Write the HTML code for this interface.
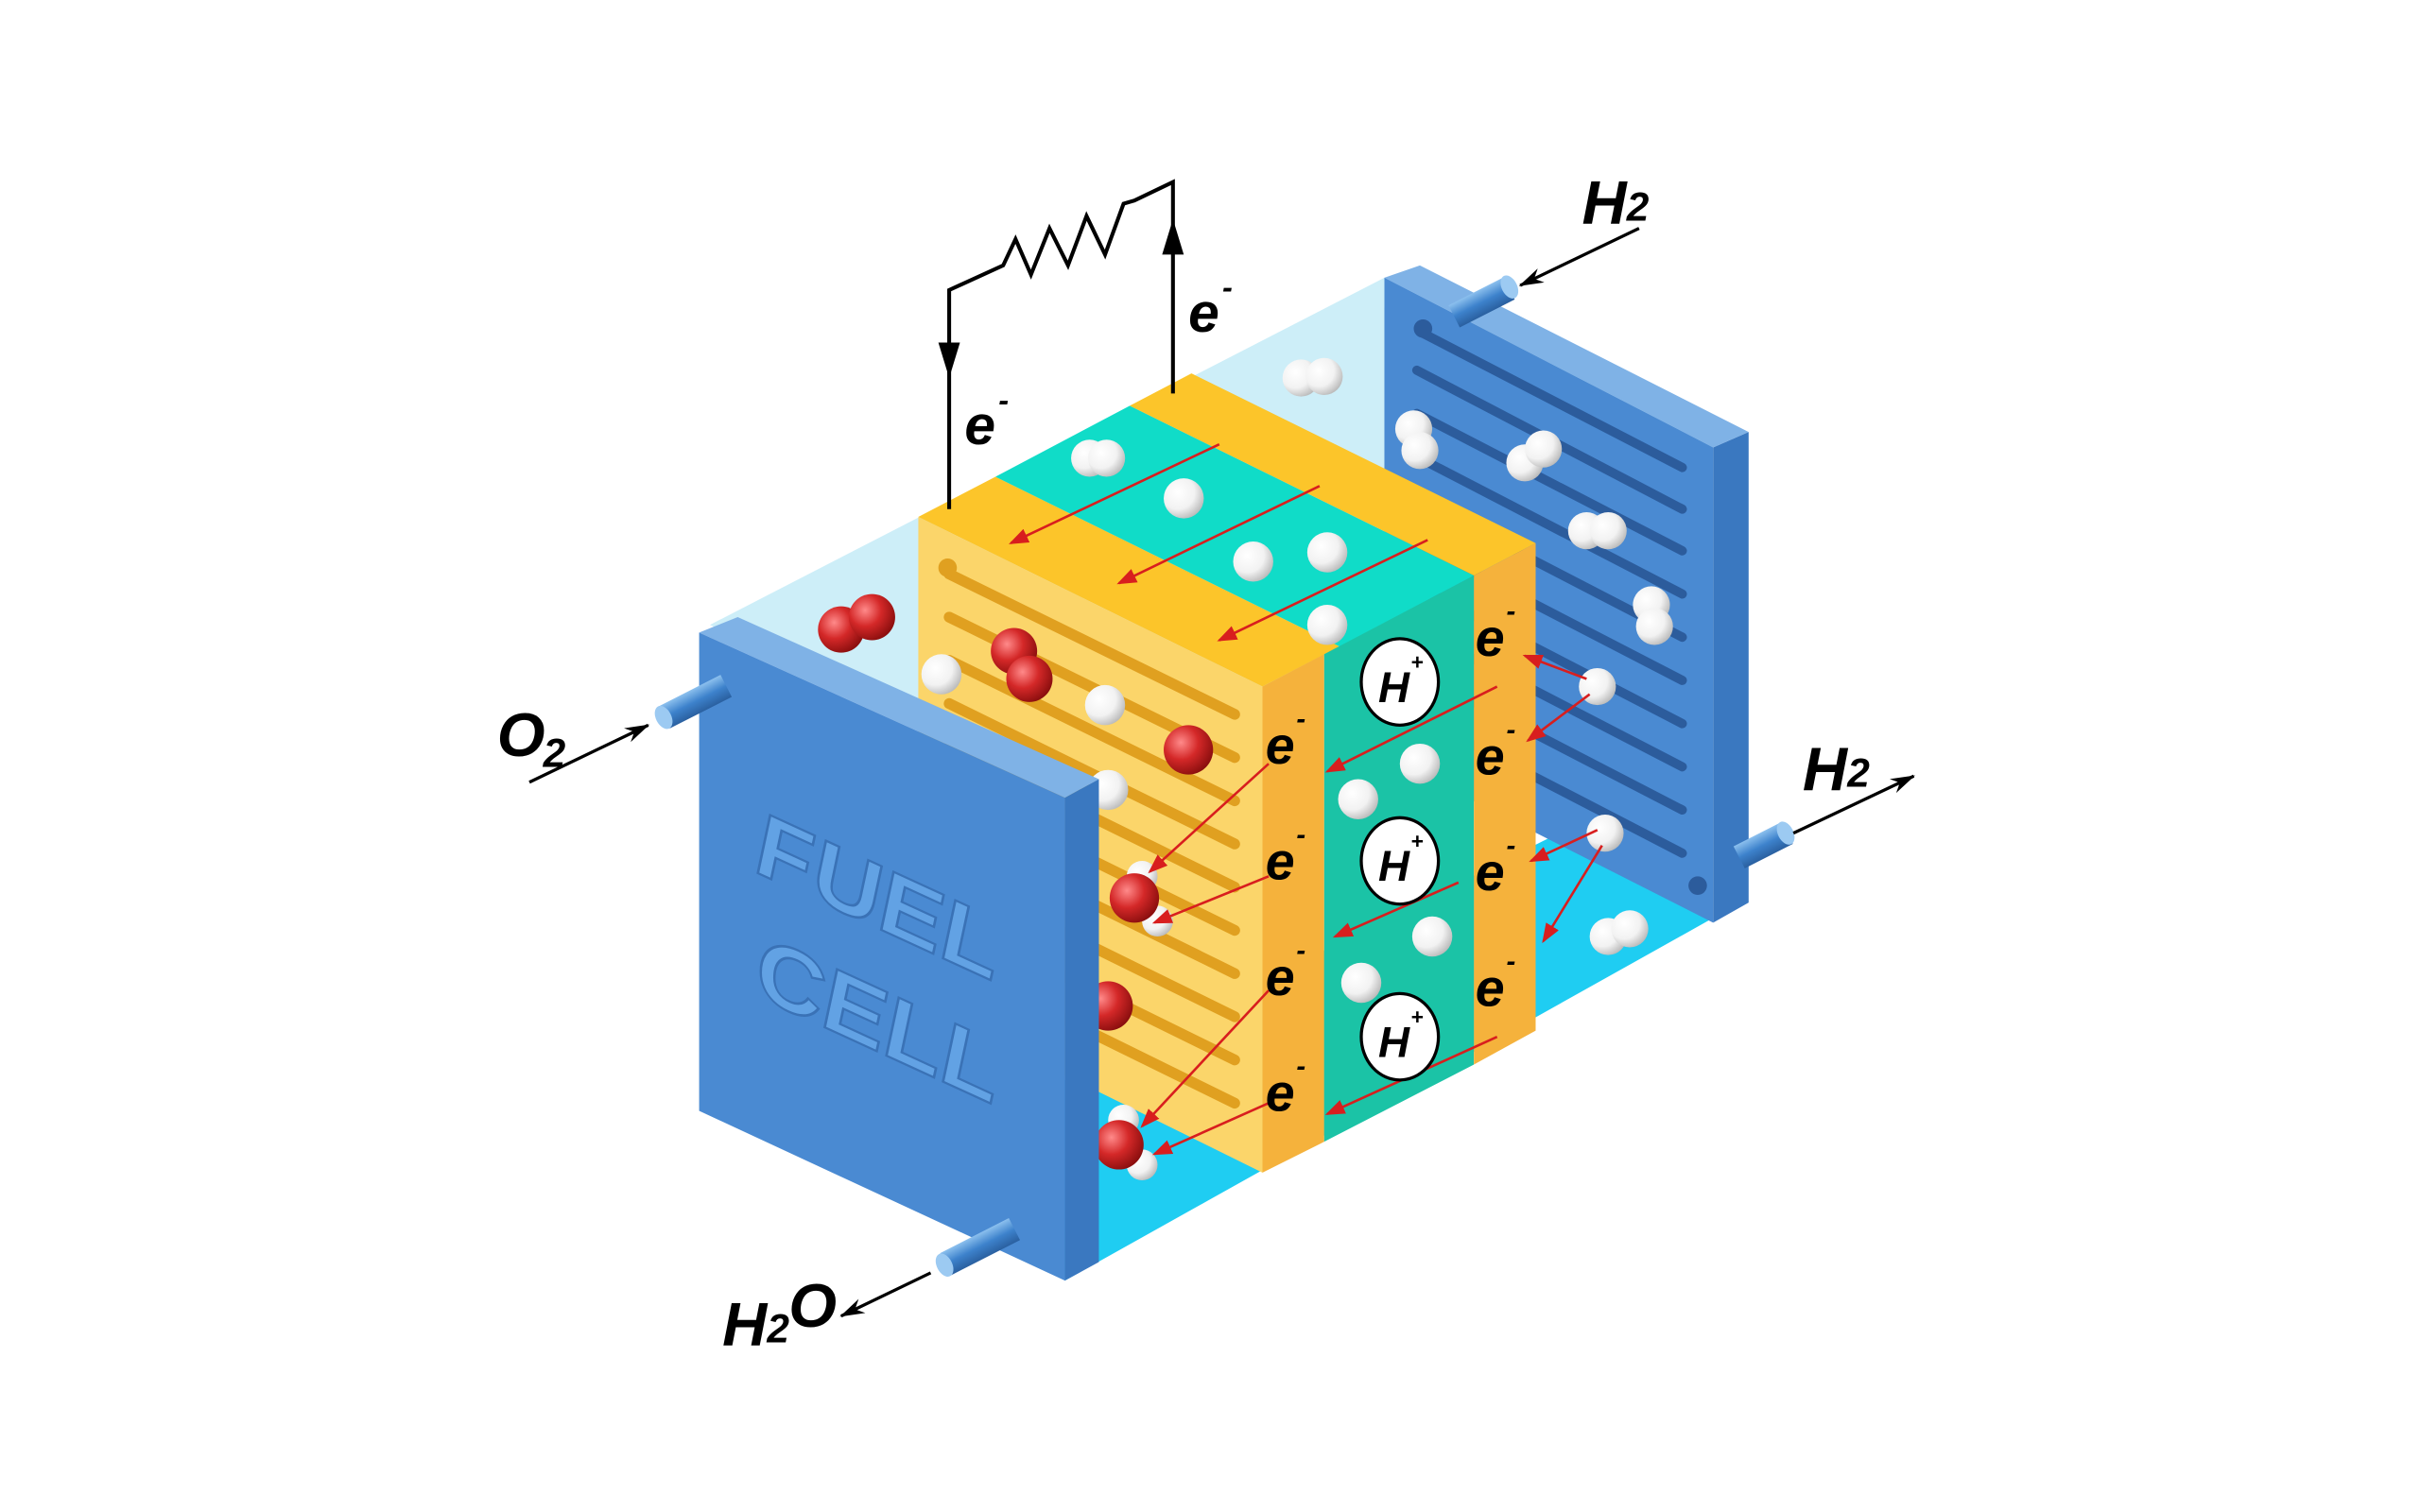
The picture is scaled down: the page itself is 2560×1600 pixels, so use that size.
<!DOCTYPE html>
<html><head><meta charset="utf-8"><style>
html,body{margin:0;padding:0;background:#fff;width:2560px;height:1600px;overflow:hidden}
svg{display:block}
text{font-family:"Liberation Sans",sans-serif;font-weight:bold;font-style:italic}
</style></head><body>
<svg width="2560" height="1600" viewBox="0 0 1568 980" preserveAspectRatio="none" xmlns="http://www.w3.org/2000/svg">
<defs>
<radialGradient id="wg" cx="0.35" cy="0.35" r="0.7"><stop offset="0" stop-color="#fff"/><stop offset="0.6" stop-color="#f2f2f2"/><stop offset="1" stop-color="#bbb"/></radialGradient>
<radialGradient id="rg" cx="0.35" cy="0.35" r="0.7"><stop offset="0" stop-color="#ff8a8a"/><stop offset="0.5" stop-color="#d42828"/><stop offset="1" stop-color="#8a0e0e"/></radialGradient>
<linearGradient id="pipe" x1="0" y1="0" x2="0" y2="1"><stop offset="0" stop-color="#8cc0ee"/><stop offset="0.5" stop-color="#3d82cc"/><stop offset="1" stop-color="#2a60a0"/></linearGradient>
<marker id="ra" markerWidth="8" markerHeight="6" refX="7" refY="3" orient="auto"><path d="M0,0 L8,3 L0,6 Z" fill="#d81e1e"/></marker>
<marker id="ka" markerWidth="16" markerHeight="10" refX="15" refY="5" orient="auto" markerUnits="userSpaceOnUse"><path d="M0,0 L16,5 L0,10 L5,5 Z" fill="#000"/></marker>
</defs>

<polygon points="460,405 897,180 1110,290 690,515" fill="#cdeef8"/>
<polygon points="690,700 1030,530 1110,595 690,830" fill="#1fcdf2"/>

<polygon points="1110,290 1133,280 1133,585 1110,598" fill="#3a78c0"/>
<polygon points="897,180 920,172 1133,280 1110,290" fill="#7fb2e6"/>
<polygon points="897,180 1110,290 1110,598 897,490" fill="#4a8ad2"/>
<g stroke="#2c5c9c" stroke-width="6" fill="none" stroke-linecap="round">
<path d="M920,215 L1090,303"/><path d="M918,240 L1090,330"/><path d="M918,268 L1090,357"/><path d="M918,296 L1090,385"/><path d="M918,324 L1090,413"/><path d="M918,352 L1090,441"/><path d="M918,380 L1090,469"/><path d="M918,408 L1090,497"/><path d="M918,436 L1090,525"/><path d="M918,464 L1090,553"/>
</g>
<circle cx="922" cy="213" r="6" fill="#2c5c9c"/><circle cx="1100" cy="574" r="6" fill="#2c5c9c"/>
<rect x="940" y="188" width="40" height="16" fill="url(#pipe)" transform="rotate(-27 960 196)"/>
<ellipse cx="978" cy="186" rx="5" ry="8" fill="#9ccaf2" transform="rotate(-27 978 186)"/>
<rect x="1125" y="540" width="35" height="16" fill="url(#pipe)" transform="rotate(-27 1142 548)"/>
<ellipse cx="1157" cy="540" rx="5" ry="8" fill="#9ccaf2" transform="rotate(-27 1157 540)"/>

<polygon points="595,335 818,445 868,419 645,309" fill="#fcc52a"/>
<polygon points="645,309 868,419 955,373 732,263" fill="#10dcc8"/>
<polygon points="732,263 955,373 995,352 772,242" fill="#fcc52a"/>
<polygon points="818,445 858,424 858,740 818,760" fill="#f5b23c"/>
<polygon points="858,424 955,373 955,690 858,740" fill="#1bc3a6"/>
<polygon points="955,373 995,352 995,668 955,690" fill="#f5b23c"/>
<polygon points="595,335 818,445 818,760 595,650" fill="#fbd56a"/>
<g stroke="#e0a020" stroke-width="7" fill="none" stroke-linecap="round">
<path d="M615,372 L800,463"/><path d="M615,400 L800,491"/><path d="M615,428 L800,519"/><path d="M615,456 L800,547"/><path d="M615,484 L800,575"/><path d="M615,512 L800,603"/><path d="M615,540 L800,631"/><path d="M615,568 L800,659"/><path d="M615,596 L800,687"/><path d="M615,624 L800,715"/>
</g>
<circle cx="614" cy="368" r="6" fill="#e0a020"/>

<g stroke="#000" stroke-width="2.5" fill="none">
<path d="M615,330 L615,188 L650,172 L658,155 L668,178 L680,148 L692,172 L704,140 L716,165 L728,132 L735,130 L760,118 L760,255"/>
</g>
<path d="M608,222 L615,245 L622,222 Z" fill="#000"/>
<path d="M753,165 L760,142 L767,165 Z" fill="#000"/>
<text x="625" y="288" font-size="36">e</text><text x="647" y="266" font-size="20">-</text>
<text x="770" y="215" font-size="36">e</text><text x="792" y="193" font-size="20">-</text>

<g>
<circle cx="706" cy="297" r="12" fill="url(#wg)"/><circle cx="717" cy="297" r="12" fill="url(#wg)"/>
<circle cx="767" cy="323" r="13" fill="url(#wg)"/>
<circle cx="812" cy="364" r="13" fill="url(#wg)"/>
<circle cx="860" cy="358" r="13" fill="url(#wg)"/>
<circle cx="860" cy="405" r="13" fill="url(#wg)"/>
<circle cx="610" cy="437" r="13" fill="url(#wg)"/>
<circle cx="716" cy="457" r="13" fill="url(#wg)"/>
<circle cx="718" cy="512" r="13" fill="url(#wg)"/>
<circle cx="920" cy="495" r="13" fill="url(#wg)"/>
<circle cx="880" cy="518" r="13" fill="url(#wg)"/>
<circle cx="928" cy="607" r="13" fill="url(#wg)"/>
<circle cx="882" cy="637" r="13" fill="url(#wg)"/>
<circle cx="843" cy="245" r="12" fill="url(#wg)"/><circle cx="858" cy="244" r="12" fill="url(#wg)"/>
<circle cx="916" cy="278" r="12" fill="url(#wg)"/><circle cx="920" cy="292" r="12" fill="url(#wg)"/>
<circle cx="988" cy="300" r="12" fill="url(#wg)"/><circle cx="1000" cy="291" r="12" fill="url(#wg)"/>
<circle cx="1028" cy="344" r="12" fill="url(#wg)"/><circle cx="1042" cy="344" r="12" fill="url(#wg)"/>
<circle cx="1070" cy="392" r="12" fill="url(#wg)"/><circle cx="1072" cy="406" r="12" fill="url(#wg)"/>
<circle cx="1035" cy="445" r="12" fill="url(#wg)"/>
<circle cx="1040" cy="540" r="12" fill="url(#wg)"/>
<circle cx="1042" cy="607" r="12" fill="url(#wg)"/><circle cx="1056" cy="602" r="12" fill="url(#wg)"/>
<circle cx="545" cy="408" r="15" fill="url(#rg)"/><circle cx="565" cy="400" r="15" fill="url(#rg)"/>
<circle cx="657" cy="422" r="15" fill="url(#rg)"/><circle cx="667" cy="440" r="15" fill="url(#rg)"/>
<circle cx="770" cy="486" r="16" fill="url(#rg)"/>
<circle cx="740" cy="568" r="10" fill="url(#wg)"/><circle cx="750" cy="597" r="10" fill="url(#wg)"/><circle cx="735" cy="582" r="16" fill="url(#rg)"/>
<circle cx="718" cy="652" r="16" fill="url(#rg)"/>
<circle cx="728" cy="726" r="10" fill="url(#wg)"/><circle cx="740" cy="755" r="10" fill="url(#wg)"/><circle cx="725" cy="742" r="16" fill="url(#rg)"/>
</g>

<g stroke="#d81e1e" stroke-width="1.6" marker-end="url(#ra)">
<line x1="790" y1="288" x2="655" y2="352"/><line x1="855" y1="315" x2="725" y2="378"/><line x1="925" y1="350" x2="790" y2="415"/>
<line x1="1028" y1="440" x2="988" y2="425"/><line x1="1030" y1="450" x2="990" y2="480"/>
<line x1="1035" y1="538" x2="992" y2="558"/><line x1="1038" y1="548" x2="1000" y2="610"/>
<line x1="970" y1="445" x2="860" y2="500"/><line x1="945" y1="572" x2="865" y2="607"/><line x1="970" y1="672" x2="860" y2="722"/>
<line x1="822" y1="495" x2="745" y2="565"/><line x1="822" y1="568" x2="748" y2="598"/><line x1="822" y1="642" x2="740" y2="730"/><line x1="822" y1="715" x2="748" y2="748"/>
</g>

<g font-size="34">
<text x="820" y="495">e</text><text x="840" y="472" font-size="18">-</text>
<text x="820" y="570">e</text><text x="840" y="547" font-size="18">-</text>
<text x="820" y="645">e</text><text x="840" y="622" font-size="18">-</text>
<text x="820" y="720">e</text><text x="840" y="697" font-size="18">-</text>
<text x="956" y="425">e</text><text x="976" y="402" font-size="18">-</text>
<text x="956" y="502">e</text><text x="976" y="479" font-size="18">-</text>
<text x="956" y="577">e</text><text x="976" y="554" font-size="18">-</text>
<text x="956" y="652">e</text><text x="976" y="629" font-size="18">-</text>
</g>
<g font-size="28" font-style="normal">
<ellipse cx="907" cy="442" rx="25" ry="28" fill="#fff" stroke="#000" stroke-width="2"/><text x="893" y="455">H</text><text x="914" y="434" font-size="14">+</text>
<ellipse cx="907" cy="558" rx="25" ry="28" fill="#fff" stroke="#000" stroke-width="2"/><text x="893" y="571">H</text><text x="914" y="550" font-size="14">+</text>
<ellipse cx="907" cy="672" rx="25" ry="28" fill="#fff" stroke="#000" stroke-width="2"/><text x="893" y="685">H</text><text x="914" y="664" font-size="14">+</text>
</g>

<polygon points="453,410 478,400 712,505 690,517" fill="#7fb2e6"/>
<polygon points="690,517 712,505 712,818 690,830" fill="#3a78c0"/>
<polygon points="453,410 690,517 690,830 453,720" fill="#4a8ad2"/>
<g transform="matrix(1,0.46,0,1,0,0)" font-style="normal" font-size="60" font-weight="bold" fill="#62a2e4" stroke="#3a72b6" stroke-width="1.5">
<text x="490" y="340">FUEL</text>
<text x="490" y="420">CELL</text>
</g>
<rect x="428" y="447" width="45" height="16" fill="url(#pipe)" transform="rotate(-27 450 455)"/>
<ellipse cx="430" cy="465" rx="5" ry="8" fill="#9ccaf2" transform="rotate(-27 430 465)"/>
<rect x="610" y="800" width="50" height="16" fill="url(#pipe)" transform="rotate(-27 635 808)"/>
<ellipse cx="612" cy="820" rx="5" ry="8" fill="#9ccaf2" transform="rotate(-27 612 820)"/>

<g stroke="#000" stroke-width="2" marker-end="url(#ka)">
<line x1="343" y1="507" x2="420" y2="470"/>
<line x1="1062" y1="148" x2="985" y2="185"/>
<line x1="1162" y1="540" x2="1240" y2="503"/>
<line x1="603" y1="825" x2="545" y2="853"/>
</g>
<text x="322" y="490" font-size="40">O</text><text x="352" y="497" font-size="26">2</text>
<text x="1025" y="145" font-size="40">H</text><text x="1054" y="143" font-size="26">2</text>
<text x="1168" y="512" font-size="40">H</text><text x="1197" y="510" font-size="26">2</text>
<text x="468" y="872" font-size="40">H</text><text x="497" y="870" font-size="26">2</text><text x="511" y="860" font-size="40">O</text>
</svg>
</body></html>
